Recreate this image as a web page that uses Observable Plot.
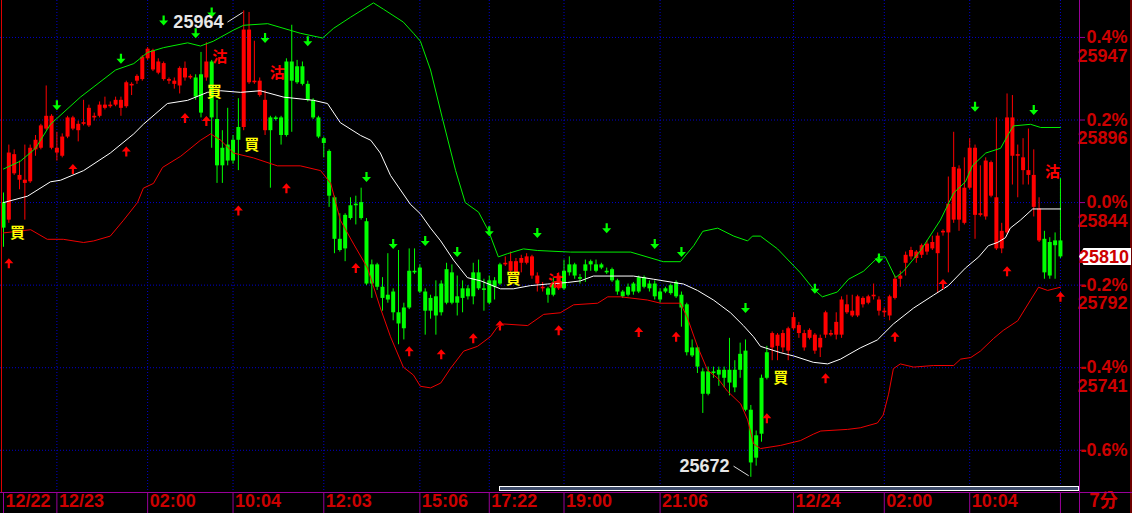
<!DOCTYPE html>
<html><head><meta charset="utf-8">
<script src="https://cdn.jsdelivr.net/npm/d3@7"></script>
<script src="https://cdn.jsdelivr.net/npm/@observablehq/plot@0.6"></script>
<style>
html,body{margin:0;padding:0;background:#000;}
#chart{width:1132px;height:513px;overflow:hidden;}
svg{display:block}
</style></head><body><div id="chart"></div>
<script>
// ---------- data ----------
const refPrice = 25844;
const pctLevels = [0.4, 0.2, 0.0, -0.2, -0.4, -0.6];
const pctLabels = ["0.4%", "0.2%", "0.0%", "-0.2%", "-0.4%", "-0.6%"];
const priceLabels = ["25947", "25896", "25844", "25792", "25741", ""];
const tickIdx = [0, 10, 27, 43, 60, 78, 91, 105, 123, 148, 165, 181, 198];
const tickLabels = ["12/22", "12/23", "02:00", "10:04", "12:03", "15:06", "17:22", "19:00", "21:06", "12/24", "02:00", "10:04", ""];
const periodLabel = "7分";

const open = [25844,25833,25862,25858,25856,25857,25877,25878,25890,25878,25875,25873,25885,25890,25889,25893,25892,25897,25898,25903,25904,25905,25903,25904,25917,25920,25921,25934,25927,25925,25921,25920,25918,25917,25922,25922,25922,25924,25922,25932,25896,25878,25880,25883,25891,25891,25919,25919,25911,25889,25897,25897,25897,25932,25932,25929,25929,25918,25908,25897,25884,25876,25847,25821,25836,25842,25843,25844,25832,25805,25805,25791,25786,25788,25775,25778,25801,25801,25803,25788,25784,25785,25793,25802,25800,25785,25790,25790,25800,25800,25790,25795,25795,25805,25805,25801,25800,25806,25806,25798,25793,25790,25790,25793,25790,25801,25805,25805,25797,25805,25807,25805,25805,25801,25802,25795,25788,25791,25793,25797,25797,25793,25793,25788,25790,25792,25794,25786,25780,25753,25753,25738,25738,25738,25739,25739,25739,25739,25749,25751,25714,25698,25734,25750,25753,25754,25753,25751,25765,25762,25753,25759,25751,25753,25761,25761,25761,25761,25775,25773,25773,25780,25781,25785,25776,25775,25773,25784,25796,25806,25810,25809,25811,25813,25815,25812,25825,25825,25833,25833,25831,25853,25836,25836,25835,25848,25815,25815,25825,25873,25873,25864,25861,25841,25820,25821,25819,25820,25820];
const high = [25850,25880,25877,25870,25880,25880,25886,25893,25917,25899,25888,25887,25898,25898,25895,25908,25905,25900,25907,25910,25907,25910,25910,25920,25919,25924,25936,25941,25940,25934,25932,25922,25922,25929,25932,25924,25924,25938,25944,25933,25908,25889,25903,25886,25909,25964,25963,25945,25922,25914,25898,25898,25898,25934,25955,25933,25932,25920,25909,25898,25885,25877,25848,25837,25837,25847,25848,25853,25834,25808,25806,25797,25812,25790,25814,25781,25815,25815,25805,25790,25786,25795,25795,25806,25805,25798,25795,25792,25806,25808,25796,25798,25797,25806,25810,25813,25809,25811,25812,25811,25800,25794,25791,25797,25800,25808,25810,25806,25799,25808,25808,25808,25806,25803,25803,25796,25789,25793,25794,25798,25798,25795,25795,25790,25791,25793,25795,25788,25781,25758,25754,25740,25741,25741,25741,25741,25759,25745,25756,25758,25717,25701,25736,25754,25763,25762,25764,25766,25775,25769,25764,25765,25762,25761,25776,25764,25775,25785,25786,25786,25786,25785,25786,25793,25785,25778,25786,25798,25801,25813,25816,25814,25818,25820,25823,25825,25827,25860,25888,25867,25872,25884,25880,25867,25872,25870,25897,25831,25912,25911,25880,25884,25890,25877,25847,25826,25822,25825,25859];
const low = [25816,25831,25861,25852,25833,25856,25873,25877,25889,25877,25870,25872,25884,25889,25882,25892,25891,25895,25897,25902,25903,25904,25898,25903,25911,25918,25920,25933,25926,25924,25920,25918,25915,25912,25920,25921,25908,25897,25920,25878,25856,25856,25867,25868,25864,25889,25918,25918,25910,25886,25853,25895,25880,25885,25888,25918,25917,25907,25896,25884,25872,25841,25812,25813,25807,25833,25830,25833,25792,25784,25789,25776,25781,25770,25755,25758,25777,25799,25787,25761,25771,25761,25773,25780,25780,25773,25775,25783,25780,25789,25776,25780,25783,25792,25804,25798,25796,25800,25805,25796,25788,25788,25781,25785,25789,25789,25798,25796,25793,25794,25801,25800,25802,25799,25794,25786,25784,25785,25786,25787,25790,25788,25783,25781,25787,25786,25784,25766,25748,25747,25737,25712,25723,25734,25729,25728,25723,25725,25734,25713,25672,25679,25694,25733,25745,25745,25750,25745,25764,25759,25751,25758,25749,25747,25759,25760,25758,25759,25774,25772,25772,25778,25780,25783,25773,25772,25770,25783,25791,25798,25808,25806,25809,25811,25814,25787,25823,25800,25831,25826,25830,25852,25821,25835,25833,25847,25814,25812,25824,25855,25847,25855,25855,25835,25819,25796,25796,25796,25809];
const close = [25828,25875,25874,25861,25858,25878,25883,25892,25898,25898,25878,25885,25897,25897,25893,25894,25903,25898,25905,25905,25905,25908,25908,25919,25918,25923,25935,25940,25939,25932,25931,25921,25920,25928,25928,25923,25910,25900,25932,25897,25867,25867,25870,25870,25883,25952,25952,25920,25920,25908,25889,25896,25886,25886,25920,25919,25918,25908,25897,25885,25881,25848,25821,25814,25815,25834,25842,25834,25793,25793,25791,25784,25783,25775,25768,25765,25778,25800,25788,25776,25776,25773,25775,25781,25781,25781,25784,25785,25785,25790,25789,25781,25791,25793,25806,25807,25807,25809,25810,25810,25798,25791,25786,25786,25798,25790,25800,25798,25796,25801,25805,25801,25803,25800,25795,25788,25785,25786,25788,25788,25791,25790,25785,25783,25788,25787,25785,25778,25750,25748,25741,25724,25724,25737,25736,25734,25731,25728,25739,25714,25681,25684,25699,25734,25762,25761,25762,25765,25772,25767,25762,25764,25761,25759,25775,25762,25769,25783,25780,25776,25785,25784,25785,25786,25783,25776,25785,25796,25798,25811,25814,25813,25817,25818,25819,25823,25826,25843,25866,25865,25853,25878,25878,25837,25870,25869,25847,25826,25897,25897,25874,25872,25864,25861,25840,25800,25798,25817,25810];

// Bollinger band traces (bar index, price)
const upperIdx = [0,3.2,6.0,8.8,14.4,21.0,24.4,27.0,30.0,34.5,36.9,39.3,43.1,45.0,49.5,55.6,59.8,61.8,65.0,69.3,71.2,74.9,76.8,78.1,80.0,82.2,84.7,86.5,89.0,90.9,92.7,94.4,97.4,100.0,106.2,117.5,123.6,126.8,129.3,131.0,133.8,136.8,139.4,140.3,141.8,145.0,149.3,151.7,153.4,156.2,158.3,161.1,163.9,165.2,167.1,168.6,171.8,175.5,178.0,180.2,181.5,184.0,186.8,188.1,189.2,192.4,194.3,198.0];
const upperVal = [25865,25870,25878,25893,25910,25927,25931,25938,25941,25944,25942,25945,25952,25955,25956,25950,25947,25953,25960,25969,25965,25957,25950,25945,25927,25897,25864,25844,25838,25826,25810,25812,25815,25814,25813,25813,25807,25807,25817,25826,25828,25823,25820,25823,25823,25815,25800,25790,25785,25788,25796,25801,25810,25810,25797,25801,25814,25833,25850,25857,25867,25875,25878,25886,25892,25893,25891,25891];
const midIdx = [0,4.5,8.8,10.7,15.0,20.0,24.4,26.2,30.7,34.5,38.2,40.7,44.4,48.1,52.5,58.1,60.7,63.1,66.9,68.8,70.6,72.5,76.2,78.1,80.0,81.9,84.3,86.9,89.4,93.1,95.5,98.7,101.9,105.7,108.1,110.5,114.3,118.0,121.8,125.5,127.4,130.0,133.0,136.2,138.6,140.5,141.8,145.6,148.0,151.7,154.4,156.8,160.5,163.7,166.7,170.5,174.2,177.0,180.2,182.7,184.5,186.2,187.7,188.6,190.5,192.8,193.9,198.0];
const midVal = [25844,25848,25857,25858,25864,25875,25887,25893,25906,25908,25913,25914,25913,25914,25910,25908,25906,25894,25886,25883,25875,25861,25843,25837,25828,25820,25808,25797,25795,25790,25790,25792,25793,25794,25795,25798,25798,25798,25796,25794,25793,25789,25783,25775,25767,25760,25754,25750,25748,25744,25743,25746,25753,25758,25768,25778,25786,25792,25803,25810,25817,25819,25822,25828,25833,25840,25840,25840];
const lowIdx = [0,5.1,8.2,11.2,15.0,16.9,20.0,22.5,25.1,26.2,28.1,29.8,33.2,36.9,38.8,40.7,43.1,46.8,51.3,55.6,59.4,61.3,63.1,65.6,68.2,70.6,72.5,74.9,76.8,78.1,80.0,81.9,83.7,86.2,88.8,91.2,92.5,93.7,98.2,101.2,104.3,106.8,111.3,113.2,115.6,120.6,123.1,126.8,128.1,130.0,131.9,133.8,135.6,138.1,139.4,140.5,141.8,145.6,149.3,151.7,153.1,158.1,160.5,163.7,164.8,165.8,166.7,168.0,170.5,174.2,178.0,179.3,181.2,183.0,185.5,187.3,190.0,192.4,193.9,195.6,198.0];
const lowVal = [25825,25827,25821,25821,25819,25820,25823,25833,25844,25853,25856,25866,25873,25883,25887,25883,25875,25872,25867,25867,25864,25856,25833,25818,25803,25778,25760,25741,25736,25729,25728,25731,25740,25751,25754,25760,25766,25768,25767,25774,25775,25780,25781,25785,25785,25783,25781,25781,25772,25754,25739,25734,25726,25718,25708,25693,25690,25692,25695,25699,25701,25702,25703,25706,25711,25724,25740,25743,25741,25742,25742,25746,25747,25751,25759,25764,25770,25783,25791,25789,25791];

// signal markers
const downIdx = [10,22,30,36,39,49,57,68,73,79,85,91,100,113,122,127,139,152,164,182,193];
const downVal = [25905,25934,25958,25950,25963,25947,25945,25860,25818,25820,25813,25826,25825,25828,25818,25813,25778,25790,25809,25904,25902];
const upIdx = [1,13,23,34,38,44,53,66,76,82,88,93,104,119,126,143,154,167,176,188,198];
const upVal = [25806,25865,25876,25897,25895,25839,25853,25803,25751,25749,25759,25767,25764,25763,25760,25709,25734,25760,25793,25801,25785];
const buyIdx = [2.6, 39.5, 46.5, 95.5, 145.6];
const buyVal = [25825, 25913, 25880, 25796, 25734];
const sellIdx = [40.5, 51.3, 103.4, 196.5];
const sellVal = [25935, 25925, 25795, 25863];

// high / low annotations: label anchor and leader line
const hiNote = {i: 41.2, v: 25957, x1: 41.96, y1: 25957, x2: 44.8, y2: 25963};
const loNote = {i: 136.0, v: 25679, x1: 136.76, y1: 25679, x2: 139.6, y2: 25673};

// ---------- build ----------
const RED = "#ff0000", GREEN = "#00ff00", AXRED = "#cc0000", PURPLE = "#990099", GRID = "#0000cc";
const bars = open.map((o, i) => ({i, open: o, high: high[i], low: low[i], close: close[i]}));
const col = d => d.close > d.open ? RED : GREEN;
const levels = pctLevels.map((p, k) => ({price: refPrice * (1 + p / 100), pct: pctLabels[k], lab: priceLabels[k]}));
const ticks = tickIdx.map((d, k) => ({i: d, label: tickLabels[k]}));
const pts = (xs, ys) => xs.map((d, k) => ({i: d, v: ys[k]}));

const upArrow = {draw(c) { c.moveTo(0,-5); c.lineTo(4.5,0); c.lineTo(1.1,0); c.lineTo(1.1,5); c.lineTo(-1.1,5); c.lineTo(-1.1,0); c.lineTo(-4.5,0); c.closePath(); }};
const downArrow = {draw(c) { c.moveTo(0,5); c.lineTo(4.5,0); c.lineTo(1.1,0); c.lineTo(1.1,-5); c.lineTo(-1.1,-5); c.lineTo(-1.1,0); c.lineTo(-4.5,0); c.closePath(); }};

const font = "'Liberation Sans', Arial, sans-serif";
const cjk = "'Noto Sans CJK TC', 'Noto Sans CJK SC', sans-serif";

const plot = Plot.plot({
  width: 1132, height: 513,
  marginLeft: 0, marginRight: 53, marginTop: 0, marginBottom: 21,
  style: {background: "#000", color: "#fff", fontFamily: font},
  x: {type: "linear", domain: [-0.562, 201.57]},
  y: {domain: [25662.5, 25970.5]},
  color: {type: "identity"},
  marks: [
    Plot.gridY(levels.map(d => d.price), {stroke: GRID, strokeOpacity: 1, strokeDasharray: "1,2"}),
    Plot.gridX(tickIdx.slice(1), {stroke: GRID, strokeOpacity: 1, strokeDasharray: "1,2"}),
    Plot.axisX(tickIdx, {anchor: "bottom", tickSize: 21, tickFormat: () => "", stroke: PURPLE}),
    Plot.axisY(levels.map(d => d.price), {anchor: "right", tickSize: 5, tickFormat: () => "", stroke: PURPLE}),
    Plot.text(ticks, {x: "i", text: "label", frameAnchor: "bottom", dy: 14, dx: 2, textAnchor: "start", fill: AXRED, fontSize: 18, fontWeight: "bold"}),
    Plot.text(levels, {y: "price", text: "pct", frameAnchor: "right", dx: 48, textAnchor: "end", fill: AXRED, fontSize: 18, fontWeight: "bold"}),
    Plot.text(levels, {y: "price", text: "lab", frameAnchor: "right", dx: 48, dy: 18.5, textAnchor: "end", fill: AXRED, fontSize: 18, fontWeight: "bold"}),
    Plot.text([periodLabel], {text: d => d, frameAnchor: "bottom-right", dx: 24, dy: 14, textAnchor: "middle", fill: AXRED, fontSize: 18, fontWeight: "bold", fontFamily: cjk}),
    // candles
    Plot.ruleX(bars, {x: "i", y1: "low", y2: "high", stroke: col, strokeWidth: 1}),
    Plot.ruleX(bars, {x: "i", y1: "open", y2: "close", stroke: col, strokeWidth: 4}),
    // bands
    Plot.line(pts(upperIdx, upperVal), {x: "i", y: "v", stroke: "#00ee00", strokeWidth: 1}),
    Plot.line(pts(midIdx, midVal), {x: "i", y: "v", stroke: "#ffffff", strokeWidth: 1}),
    Plot.line(pts(lowIdx, lowVal), {x: "i", y: "v", stroke: "#ee0000", strokeWidth: 1}),
    // signals
    Plot.dot(pts(downIdx, downVal), {x: "i", y: "v", symbol: downArrow, fill: GREEN, r: 5}),
    Plot.dot(pts(upIdx, upVal), {x: "i", y: "v", symbol: upArrow, fill: RED, r: 5}),
    Plot.text(pts(buyIdx, buyVal), {x: "i", y: "v", text: () => "買", fill: "#ffff00", fontSize: 15, fontWeight: "bold", fontFamily: cjk}),
    Plot.text(pts(sellIdx, sellVal), {x: "i", y: "v", text: () => "沽", fill: RED, fontSize: 15, fontWeight: "bold", fontFamily: cjk}),
    // extremes
    Plot.text([hiNote], {x: "i", y: "v", text: () => String(d3.max(high)), textAnchor: "end", fill: "#e6e6e6", fontSize: 18, fontWeight: "bold"}),
    Plot.text([loNote], {x: "i", y: "v", text: () => String(d3.min(low)), textAnchor: "end", fill: "#e6e6e6", fontSize: 18, fontWeight: "bold"}),
    Plot.link([hiNote, loNote], {x1: "x1", y1: "y1", x2: "x2", y2: "y2", stroke: "#dddddd", strokeWidth: 1})
  ]
});

document.getElementById("chart").appendChild(plot);

// frame decorations and current price tag
const svg = d3.select(plot);
const g = svg.append("g");
g.append("line").attr("x1", 1.5).attr("x2", 1.5).attr("y1", 0).attr("y2", 492).attr("stroke", "#dd0000");
g.append("line").attr("x1", 1131).attr("x2", 1131).attr("y1", 0).attr("y2", 513).attr("stroke", "#dd0000");
g.append("line").attr("x1", 1079.5).attr("x2", 1079.5).attr("y1", 0).attr("y2", 513).attr("stroke", PURPLE);
g.append("line").attr("x1", 0).attr("x2", 1132).attr("y1", 492.5).attr("y2", 492.5).attr("stroke", PURPLE);
g.append("rect").attr("x", 499.5).attr("y", 486.5).attr("width", 579).attr("height", 4)
  .attr("fill", "#3c4a68").attr("stroke", "#ffffff").attr("stroke-width", 1);
const last = close[close.length - 1];
const yl = plot.scale("y").apply(last);
g.append("path").attr("d", `M1079,${yl} L1083.5,${yl-8.5} L1131,${yl-8.5} L1131,${yl+8.5} L1083.5,${yl+8.5} Z`).attr("fill", "#ffffff");
g.append("text").attr("x", 1129).attr("y", yl).attr("dy", "0.36em").attr("text-anchor", "end")
  .attr("fill", AXRED).attr("font-size", 18).attr("font-weight", "bold").attr("font-family", font).text(String(last));
</script></body></html>
